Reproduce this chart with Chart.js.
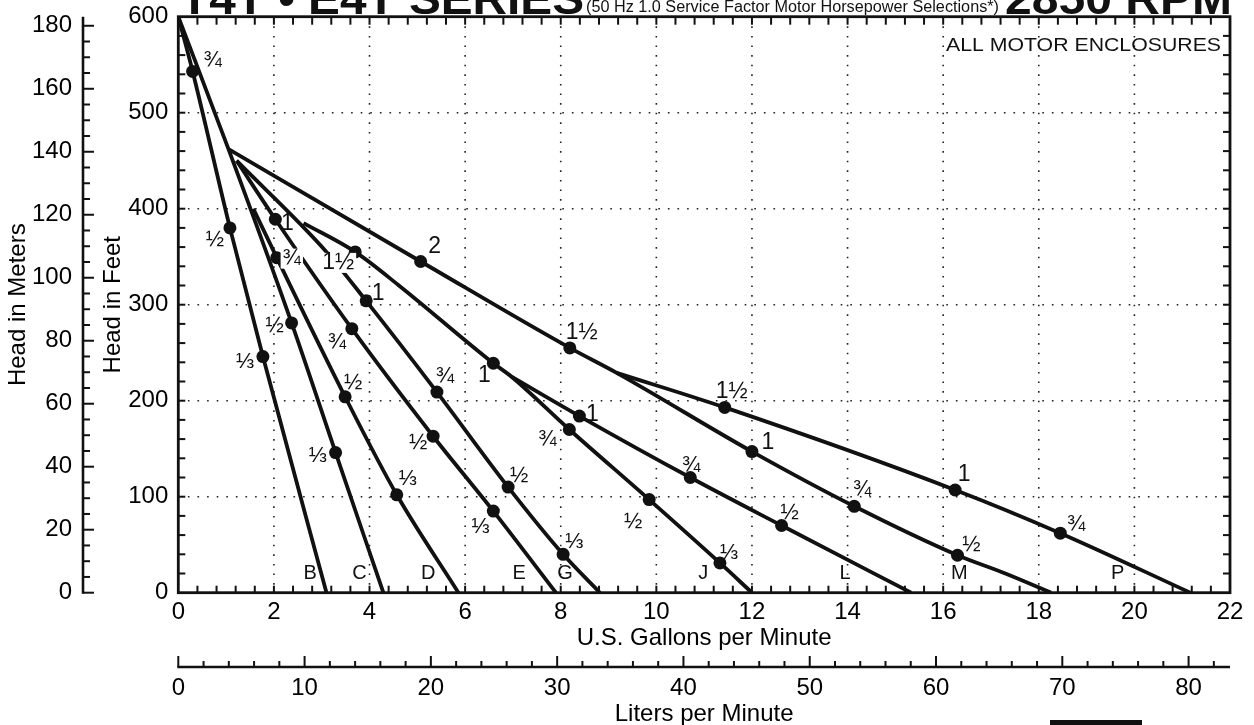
<!DOCTYPE html>
<html>
<head>
<meta charset="utf-8">
<script src="https://cdn.jsdelivr.net/npm/chart.js@4.4.1/dist/chart.umd.min.js"></script>
<style>
  html, body { margin: 0; padding: 0; background: #fff; }
  #wrap { width: 1254px; height: 725px; }
</style>
</head>
<body>
<div id="wrap"><canvas id="pump" width="1254" height="725"></canvas></div>
<script>
// axis ticks
const gpmTicks = [0, 2, 4, 6, 8, 10, 12, 14, 16, 18, 20, 22];
const feetTicks = [0, 100, 200, 300, 400, 500, 600];
const meterTicks = [0, 20, 40, 60, 80, 100, 120, 140, 160, 180];
const literTicks = [0, 10, 20, 30, 40, 50, 60, 70, 80];

// pump curves: flow (gpm), head (ft), motor hp at the dots
const B_gpm = [0, 0.30, 1.08, 1.77, 3.10];
const B_ft  = [600, 543, 380, 246, 0];
const B_hp  = ['', '¾', '½', '⅓', ''];

const C_gpm = [0, 1.05, 2.37, 3.29, 4.29];
const C_ft  = [600, 462, 281, 146, 0];
const C_hp  = ['', '', '½', '⅓', ''];

const D_gpm = [1.57, 2.06, 3.49, 4.57, 5.86];
const D_ft  = [400, 349, 204, 102, 0];
const D_hp  = ['', '¾', '½', '⅓', ''];

const E_gpm = [1.22, 2.03, 3.63, 5.33, 6.59, 7.90];
const E_ft  = [450, 389, 275, 163, 85, 0];
const E_hp  = ['', '1', '¾', '½', '⅓', ''];

const G_gpm = [1.22, 3.10, 3.93, 5.41, 6.90, 8.05, 8.82];
const G_ft  = [450, 355, 304, 209, 110, 40, 0];
const G_hp  = ['', '', '1', '¾', '½', '⅓', ''];

const J_gpm = [2.62, 3.70, 4.64, 6.59, 6.97, 8.18, 9.85, 11.33, 12.0];
const J_ft  = [385, 355, 319, 239, 225, 170, 97, 31, 0];
const J_hp  = ['', '1½', '', '1', '', '¾', '½', '⅓', ''];

const L_gpm = [6.97, 8.39, 10.71, 12.62, 15.33];
const L_ft  = [225, 184, 120, 70, 0];
const L_hp  = ['', '1', '¾', '½', ''];

const M_gpm = [1.05, 5.07, 8.19, 9.17, 12.0, 14.14, 16.30, 17.3, 18.26];
const M_ft  = [462, 345, 255, 229, 147, 90, 39, 20, 0];
const M_hp  = ['', '2', '1½', '', '1', '¾', '½', '', ''];

const P_gpm = [9.17, 11.43, 16.25, 18.45, 21.17];
const P_ft  = [229, 193, 107, 62, 0];
const P_hp  = ['', '1½', '1', '¾', ''];

const modelNames = ['B', 'C', 'D', 'E', 'G', 'J', 'L', 'M', 'P'];
const modelLetterGpm = [2.76, 3.79, 5.23, 7.13, 8.09, 10.98, 13.95, 16.34, 19.65];
const modelLetterFt = 20;

const curves = [
  { name: 'B', gpm: B_gpm, ft: B_ft, hp: B_hp },
  { name: 'C', gpm: C_gpm, ft: C_ft, hp: C_hp },
  { name: 'D', gpm: D_gpm, ft: D_ft, hp: D_hp },
  { name: 'E', gpm: E_gpm, ft: E_ft, hp: E_hp },
  { name: 'G', gpm: G_gpm, ft: G_ft, hp: G_hp },
  { name: 'J', gpm: J_gpm, ft: J_ft, hp: J_hp },
  { name: 'L', gpm: L_gpm, ft: L_ft, hp: L_hp },
  { name: 'M', gpm: M_gpm, ft: M_ft, hp: M_hp },
  { name: 'P', gpm: P_gpm, ft: P_ft, hp: P_hp },
];

// where the hp label sits relative to its dot (px), and whether it blanks the line under it
const labelOffset = {
  B: { 1: [20, -10], 2: [-15, 12], 3: [-18, 5] },
  C: { 2: [-17, 3], 3: [-18, 3] },
  D: { 1: [15, 1, true], 2: [8, -14], 3: [11, -16] },
  E: { 1: [12, 4], 2: [-15, 14], 3: [-15, 7], 4: [-13, 16] },
  G: { 2: [12, -7], 3: [8, -15], 4: [11, -11], 5: [11, -12] },
  J: { 1: [-17, 11, true], 3: [-9, 12], 5: [-22, 10], 6: [-16, 22], 7: [9, -10] },
  L: { 1: [13, -1], 2: [1, -12], 3: [8, -13] },
  M: { 1: [14, -15], 2: [12, -15], 4: [16, -9], 5: [8, -16], 6: [14, -10] },
  P: { 1: [7, -16], 2: [9, -15], 3: [16, -8] },
};

const FONT = '"Liberation Sans", Arial, Helvetica, sans-serif';
Chart.defaults.font.family = FONT;
Chart.defaults.color = '#000';

function seg(ctx, x1, y1, x2, y2) {
  ctx.beginPath();
  ctx.moveTo(x1, y1);
  ctx.lineTo(x2, y2);
  ctx.stroke();
}

function fitText(ctx, text, x, y, width, font) {
  ctx.save();
  ctx.font = font;
  const w = ctx.measureText(text).width;
  ctx.translate(x, y);
  ctx.scale(width / w, 1);
  ctx.textAlign = 'left';
  ctx.textBaseline = 'alphabetic';
  ctx.fillText(text, 0, 0);
  ctx.restore();
}

const chrome = {
  id: 'chrome',
  beforeDatasetsDraw(chart) {
    const { ctx, chartArea: a, scales: { x, y } } = chart;
    ctx.save();
    ctx.strokeStyle = '#222';
    ctx.lineWidth = 1.6;
    ctx.setLineDash([1.6, 8]);
    gpmTicks.forEach(v => {
      if (v <= 0 || v >= 22) return;
      const px = x.getPixelForValue(v);
      seg(ctx, px, a.top, px, a.bottom);
    });
    feetTicks.forEach(v => {
      if (v <= 0 || v >= 600) return;
      const py = y.getPixelForValue(v);
      seg(ctx, a.left, py, a.right, py);
    });
    ctx.restore();
  },
  afterDatasetsDraw(chart) {
    const { ctx, chartArea: a, scales: { x, y, x2, y2 } } = chart;
    ctx.save();
    ctx.strokeStyle = '#111';
    ctx.lineWidth = 2;
    // inner ticks on the plot frame
    for (let k = 1; k < 55; k++) {
      const px = x.getPixelForValue(k * 0.4);
      seg(ctx, px, a.top, px, a.top + 8);
      seg(ctx, px, a.bottom, px, a.bottom - 7);
    }
    for (let k = 1; k < 30; k++) {
      const py = y.getPixelForValue(k * 20);
      seg(ctx, a.left, py, a.left + 7, py);
      seg(ctx, a.right, py, a.right - 7, py);
    }
    ctx.lineWidth = 2.8;
    ctx.strokeRect(a.left, a.top, a.right - a.left, a.bottom - a.top);

    // meters axis
    ctx.lineWidth = 2.6;
    const mx = y2.right;
    seg(ctx, mx, a.top, mx, a.bottom + 1);
    ctx.lineWidth = 2;
    for (let m = 0; m <= 180; m += 5) {
      const py = y2.getPixelForValue(m);
      seg(ctx, mx, py, mx + (m % 20 === 0 ? 11 : 7), py);
    }

    // liters axis
    const ly = x2.top + 17;
    ctx.lineWidth = 2.6;
    seg(ctx, a.left - 1, ly, a.right, ly);
    ctx.lineWidth = 2;
    for (let l = 0; l <= 82; l += 2) {
      const px = x2.getPixelForValue(l);
      seg(ctx, px, ly, px, ly - (l % 10 === 0 ? 11 : 6));
    }

    // hp labels
    ctx.fillStyle = '#111';
    ctx.textAlign = 'center';
    ctx.textBaseline = 'middle';
    curves.forEach((c, i) => {
      const meta = chart.getDatasetMeta(i);
      const offs = labelOffset[c.name] || {};
      c.hp.forEach((h, j) => {
        if (!h) return;
        const o = offs[j] || [12, -12];
        const pt = meta.data[j];
        const cx = pt.x + o[0], cy = pt.y + o[1];
        const big = /^[12]/.test(h);
        ctx.font = (big ? '23px ' : '22px ') + FONT;
        if (o[2]) {
          const w = ctx.measureText(h).width;
          ctx.fillStyle = '#fff';
          ctx.fillRect(cx - w / 2 - 2, cy - 10, w + 4, 20);
          ctx.fillStyle = '#111';
        }
        ctx.fillText(h, cx, cy);
      });
    });

    // model letters
    ctx.font = '20px ' + FONT;
    modelNames.forEach((n, i) => {
      ctx.fillText(n, x.getPixelForValue(modelLetterGpm[i]), y.getPixelForValue(modelLetterFt));
    });

    // enclosure note
    ctx.textBaseline = 'alphabetic';
    fitText(ctx, 'ALL MOTOR ENCLOSURES', 946, 51, 275, '19px ' + FONT);
    ctx.restore();
  },
  afterDraw(chart) {
    const ctx = chart.ctx;
    ctx.save();
    ctx.fillStyle = '#111';
    fitText(ctx, 'T4T • E4T SERIES', 180, 13.5, 404, 'bold 44px ' + FONT);
    fitText(ctx, '(50 Hz 1.0 Service Factor Motor Horsepower Selections*)', 586, 12, 413, '16px ' + FONT);
    fitText(ctx, '2850 RPM', 1005, 13.5, 227, 'bold 44px ' + FONT);
    ctx.fillRect(1050, 720, 92, 5);
    ctx.restore();
  }
};

const tickFont = { size: 24 };

// fixed axis boxes so the plot area lands where the original has it
function fixH(h) {
  return s => { s.height = h; s.paddingLeft = 0; s.paddingRight = 0; };
}
function fixW(w) {
  return s => { s.width = w; s.paddingTop = 0; s.paddingBottom = 0; };
}

new Chart(document.getElementById('pump'), {
  type: 'line',
  data: {
    datasets: curves.map(c => ({
      label: c.name,
      data: c.gpm.map((g, i) => ({ x: g, y: c.ft[i] })),
      borderColor: '#111',
      borderWidth: 3.8,
      pointRadius: c.hp.map(h => (h ? 6.5 : 0)),
      pointHoverRadius: 0,
      pointBackgroundColor: '#111',
      pointBorderWidth: 0,
      cubicInterpolationMode: 'monotone',
      fill: false,
      xAxisID: 'x',
      yAxisID: 'y',
    })),
  },
  options: {
    responsive: false,
    animation: false,
    events: [],
    layout: { padding: { left: 0, right: 24, top: 16.7, bottom: 0 } },
    plugins: { legend: { display: false }, tooltip: { enabled: false } },
    scales: {
      x: {
        type: 'linear', position: 'bottom', weight: 0, min: 0, max: 22,
        afterBuildTicks: s => { s.ticks = gpmTicks.map(v => ({ value: v })); },
        ticks: { font: tickFont, padding: 5, maxRotation: 0, autoSkip: false, color: '#000' },
        grid: { display: false, drawTicks: false },
        border: { display: false },
        title: { display: true, text: 'U.S. Gallons per Minute', font: { size: 24, lineHeight: 1.0 }, color: '#000', padding: 0 },
        afterFit: fixH(57.3),
      },
      x2: {
        type: 'linear', position: 'bottom', weight: 1, min: 0, max: 22 * 3.785411784,
        afterBuildTicks: s => { s.ticks = literTicks.map(v => ({ value: v })); },
        ticks: { font: tickFont, padding: 24, maxRotation: 0, autoSkip: false, color: '#000' },
        grid: { display: false, drawTicks: false },
        border: { display: false },
        title: { display: true, text: 'Liters per Minute', font: { size: 24, lineHeight: 0.85 }, color: '#000', padding: 0 },
        afterFit: fixH(75),
      },
      y: {
        type: 'linear', position: 'left', weight: 0, min: 0, max: 600,
        afterBuildTicks: s => { s.ticks = feetTicks.map(v => ({ value: v })); },
        ticks: { font: tickFont, padding: 10, autoSkip: false, color: '#000' },
        grid: { display: false, drawTicks: false },
        border: { display: false },
        title: { display: true, text: 'Head in Feet', font: { size: 24 }, color: '#000', padding: { top: 16, bottom: 0 } },
        afterFit: fixW(95.3),
      },
      y2: {
        type: 'linear', position: 'left', weight: 1, min: 0, max: 600 / 3.28084,
        afterBuildTicks: s => { s.ticks = meterTicks.map(v => ({ value: v })); },
        ticks: { font: tickFont, padding: 11, autoSkip: false, color: '#000' },
        grid: { display: false, drawTicks: false },
        border: { display: false },
        title: { display: true, text: 'Head in Meters', font: { size: 24 }, color: '#000', padding: { top: 4, bottom: 0 } },
        afterFit: fixW(83),
      },
    },
  },
  plugins: [chrome],
});
</script>
</body>
</html>
